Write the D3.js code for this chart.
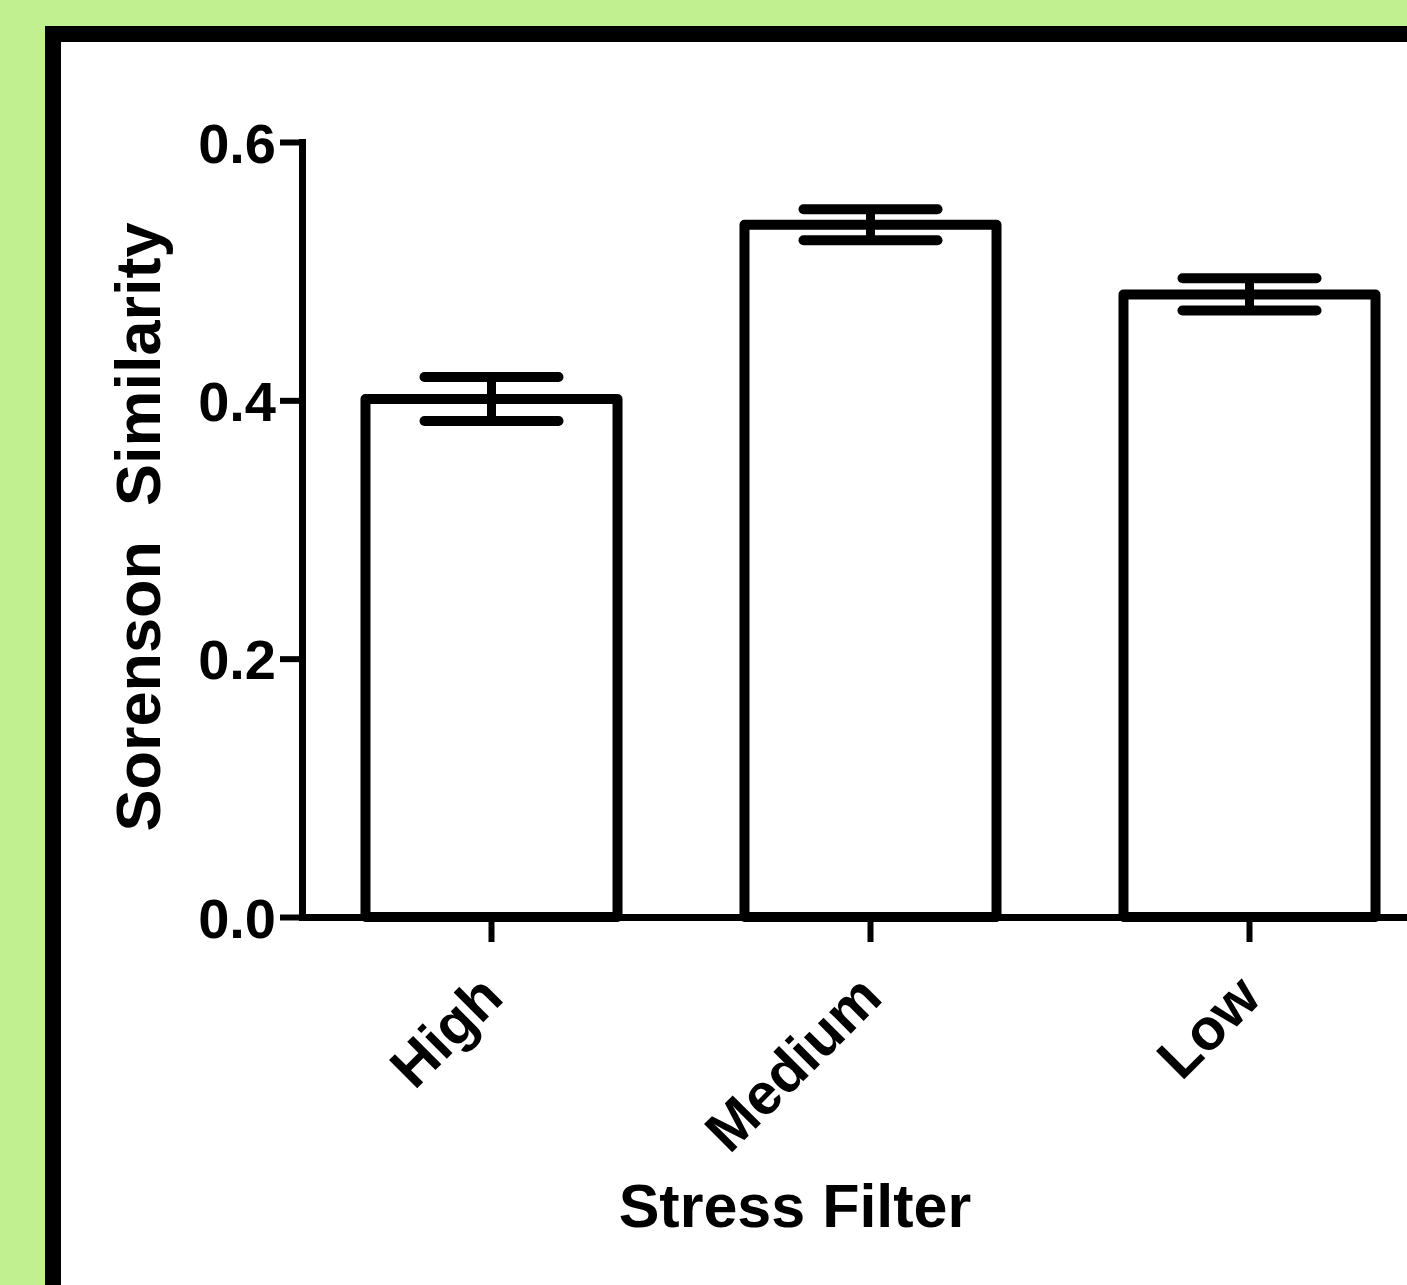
<!DOCTYPE html>
<html>
<head>
<meta charset="utf-8">
<script src="https://cdn.jsdelivr.net/npm/d3@7"></script>
<style>
  html, body { margin: 0; padding: 0; background: #c0f08f; }
  svg { display: block; }
  text { font-family: "Liberation Sans", Arial, Helvetica, sans-serif; font-weight: bold; fill: #000; }
</style>
</head>
<body>
<script>
// ---- data ----
const categories = ["High", "Medium", "Low"];
const means = [0.401, 0.536, 0.482];
const sems = [0.017, 0.012, 0.0125];
const yTicks = [0.0, 0.2, 0.4, 0.6];
const yTickLabels = ["0.0", "0.2", "0.4", "0.6"];
const xTitle = "Stress Filter";
const yTitle = "Sorenson  Similarity";

const W = 1407, H = 1285;
const svg = d3.select("body").append("svg").attr("width", W).attr("height", H);

// background / frame
svg.append("rect").attr("x", 0).attr("y", 0).attr("width", W).attr("height", H).attr("fill", "#c0f08f");
svg.append("rect").attr("x", 45).attr("y", 26).attr("width", 1600).attr("height", 1600).attr("fill", "#000");
svg.append("rect").attr("x", 61).attr("y", 42).attr("width", 1600).attr("height", 1600).attr("fill", "#fff");

// scales
const y = d3.scaleLinear().domain([0, 0.6]).range([917, 142]);
const x = d3.scaleBand().domain(categories).range([302, 1439]).paddingInner(0.335).paddingOuter(0.1675);

const g = svg.append("g");

// bars
g.selectAll("rect.bar").data(categories).join("rect")
  .attr("class", "bar")
  .attr("x", d => x(d))
  .attr("y", (d, i) => y(means[i]))
  .attr("width", x.bandwidth())
  .attr("height", (d, i) => y(0) - y(means[i]))
  .attr("fill", "#fff")
  .attr("stroke", "#000")
  .attr("stroke-width", 10)
  .attr("stroke-linejoin", "round");

// error bars
const capHalf = 67;
const eb = g.selectAll("g.err").data(categories).join("g").attr("class", "err");
eb.append("line")
  .attr("x1", d => x(d) + x.bandwidth() / 2).attr("x2", d => x(d) + x.bandwidth() / 2)
  .attr("y1", (d, i) => y(means[i] + sems[i])).attr("y2", (d, i) => y(means[i] - sems[i]))
  .attr("stroke", "#000").attr("stroke-width", 9);
eb.append("line")
  .attr("x1", d => x(d) + x.bandwidth() / 2 - capHalf).attr("x2", d => x(d) + x.bandwidth() / 2 + capHalf)
  .attr("y1", (d, i) => y(means[i] + sems[i])).attr("y2", (d, i) => y(means[i] + sems[i]))
  .attr("stroke", "#000").attr("stroke-width", 10).attr("stroke-linecap", "round");
eb.append("line")
  .attr("x1", d => x(d) + x.bandwidth() / 2 - capHalf).attr("x2", d => x(d) + x.bandwidth() / 2 + capHalf)
  .attr("y1", (d, i) => y(means[i] - sems[i])).attr("y2", (d, i) => y(means[i] - sems[i]))
  .attr("stroke", "#000").attr("stroke-width", 10).attr("stroke-linecap", "round");

// y axis
const yAxis = d3.axisLeft(y).tickValues(yTicks).tickFormat((d, i) => yTickLabels[i])
  .tickSize(22).tickSizeOuter(0).tickPadding(4);
const yg = svg.append("g").attr("transform", "translate(302,0)").call(yAxis);
yg.select(".domain").attr("stroke", "#000").attr("stroke-width", 7).attr("stroke-linecap", "square");
yg.selectAll(".tick line").attr("stroke", "#000").attr("stroke-width", 6);
yg.selectAll(".tick text").attr("font-size", 56).attr("dy", "0.36em")
  .attr("font-family", "Liberation Sans, Arial, sans-serif").attr("font-weight", "bold");

// x axis
const xAxis = d3.axisBottom(x).tickSize(25).tickSizeOuter(0).tickFormat("");
const xg = svg.append("g").attr("transform", "translate(0,917)").call(xAxis);
xg.select(".domain").attr("stroke", "#000").attr("stroke-width", 7).attr("stroke-linecap", "square");
xg.selectAll(".tick line").attr("stroke", "#000").attr("stroke-width", 6);

// x category labels (rotated)
svg.selectAll("text.xlab").data(categories).join("text")
  .attr("class", "xlab")
  .attr("text-anchor", "end")
  .attr("font-size", 58)
  .attr("transform", d => `translate(${x(d) + x.bandwidth() / 2 + 14},1000) rotate(-45)`)
  .text(d => d);

// titles
svg.append("text").attr("x", 795).attr("y", 1227).attr("text-anchor", "middle")
  .attr("font-size", 61).text(xTitle);
svg.append("text").attr("transform", "translate(160,527) rotate(-90)")
  .attr("text-anchor", "middle").attr("font-size", 63).style("white-space", "pre").text(yTitle);
</script>
</body>
</html>
